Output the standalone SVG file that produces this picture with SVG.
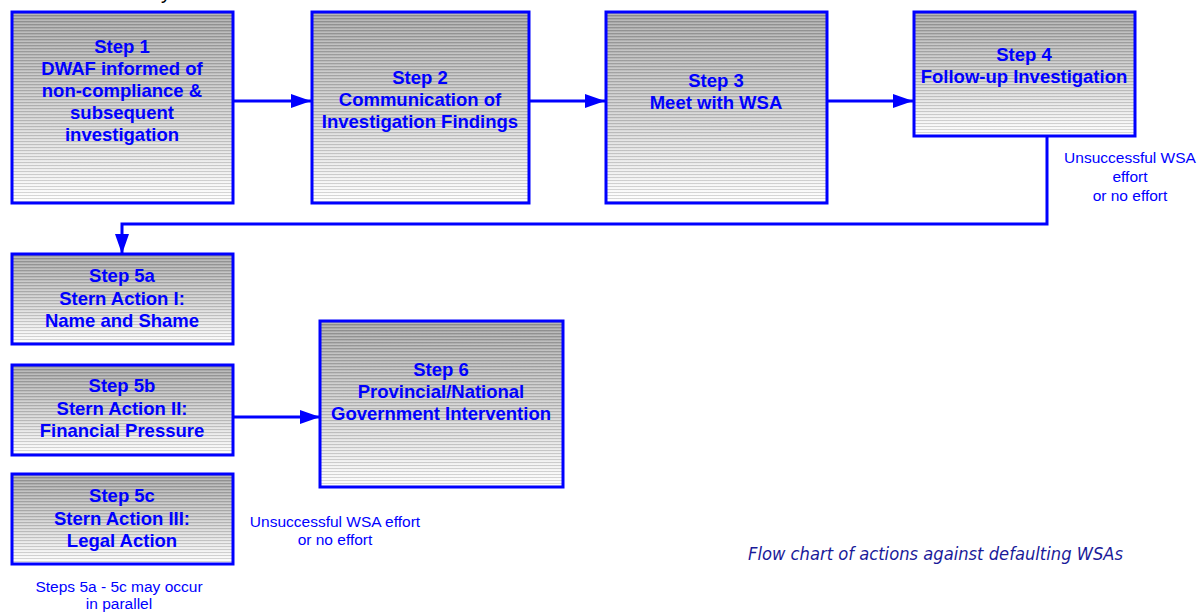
<svg xmlns="http://www.w3.org/2000/svg" width="1198" height="612" viewBox="0 0 1198 612">
  <defs>
    <linearGradient id="shade" x1="0" y1="0" x2="0" y2="1">
      <stop offset="0" stop-color="#a4a4a4"/>
      <stop offset="0.55" stop-color="#d2d2d2"/>
      <stop offset="1" stop-color="#ffffff"/>
    </linearGradient>
    <pattern id="stripes" width="6" height="3" patternUnits="userSpaceOnUse">
      <rect x="0" y="0" width="6" height="1" fill="#000" fill-opacity="0.15"/>
      <rect x="0" y="2" width="6" height="1" fill="#fff" fill-opacity="0.2"/>
    </pattern>
    <marker id="arrow" markerWidth="20" markerHeight="14" refX="20" refY="7" orient="auto" markerUnits="userSpaceOnUse">
      <path d="M0,0 L20,7 L0,14 Z" fill="#0000ff"/>
    </marker>
  </defs>
  <style>
    .box-bg { fill: url(#shade); }
    .box-st { fill: url(#stripes); stroke: #0000ff; stroke-width: 3; }
    .step { font-family: "Liberation Sans", Arial, sans-serif; font-weight: bold; font-size: 18.5px; fill: #0000ff; text-anchor: middle; }
    .note { font-family: "Liberation Sans", Arial, sans-serif; font-size: 15.5px; fill: #0000ff; text-anchor: middle; }
    .conn { fill: none; stroke: #0000ff; stroke-width: 3; }
    .caption { font-family: "DejaVu Sans", sans-serif; font-style: italic; font-size: 17px; fill: #1a1a99; }
  </style>

  <rect width="1198" height="612" fill="#ffffff"/>

  <!-- heading fragment running off the top edge -->
  <text x="161" y="-1" font-family="Liberation Sans, Arial, sans-serif" font-size="20" fill="#000">y</text>

  <!-- connectors -->
  <g id="connectors">
    <line class="conn" x1="233" y1="101" x2="311" y2="101" marker-end="url(#arrow)"/>
    <line class="conn" x1="529" y1="101" x2="605" y2="101" marker-end="url(#arrow)"/>
    <line class="conn" x1="827" y1="101" x2="913" y2="101" marker-end="url(#arrow)"/>
    <polyline class="conn" points="1047,136 1047,224 122,224 122,254" marker-end="url(#arrow)"/>
    <line class="conn" x1="233" y1="417" x2="320" y2="417" marker-end="url(#arrow)"/>
  </g>

  <g id="step1">
    <rect class="box-bg" x="12" y="12" width="221" height="191"/>
    <rect class="box-st" x="12" y="12" width="221" height="191"/>
    <text class="step" x="122" y="53">Step 1</text>
    <text class="step" x="122" y="75">DWAF informed of</text>
    <text class="step" x="122" y="97">non-compliance &amp;</text>
    <text class="step" x="122" y="119">subsequent</text>
    <text class="step" x="122" y="141">investigation</text>
  </g>

  <g id="step2">
    <rect class="box-bg" x="312" y="12" width="217" height="191"/>
    <rect class="box-st" x="312" y="12" width="217" height="191"/>
    <text class="step" x="420" y="84">Step 2</text>
    <text class="step" x="420" y="106">Communication of</text>
    <text class="step" x="420" y="128">Investigation Findings</text>
  </g>

  <g id="step3">
    <rect class="box-bg" x="606" y="12" width="221" height="191"/>
    <rect class="box-st" x="606" y="12" width="221" height="191"/>
    <text class="step" x="716" y="87">Step 3</text>
    <text class="step" x="716" y="109">Meet with WSA</text>
  </g>

  <g id="step4">
    <rect class="box-bg" x="914" y="12" width="221" height="124"/>
    <rect class="box-st" x="914" y="12" width="221" height="124"/>
    <text class="step" x="1024" y="61">Step 4</text>
    <text class="step" x="1024" y="83">Follow-up Investigation</text>
  </g>

  <g id="label-step4">
    <text class="note" x="1130" y="163">Unsuccessful WSA</text>
    <text class="note" x="1130" y="182">effort</text>
    <text class="note" x="1130" y="201">or no effort</text>
  </g>

  <g id="step5a">
    <rect class="box-bg" x="12" y="254" width="221" height="90"/>
    <rect class="box-st" x="12" y="254" width="221" height="90"/>
    <text class="step" x="122" y="282">Step 5a</text>
    <text class="step" x="122" y="305">Stern Action I:</text>
    <text class="step" x="122" y="327">Name and Shame</text>
  </g>

  <g id="step5b">
    <rect class="box-bg" x="12" y="365" width="221" height="90"/>
    <rect class="box-st" x="12" y="365" width="221" height="90"/>
    <text class="step" x="122" y="392">Step 5b</text>
    <text class="step" x="122" y="415">Stern Action II:</text>
    <text class="step" x="122" y="437">Financial Pressure</text>
  </g>

  <g id="step5c">
    <rect class="box-bg" x="12" y="474" width="221" height="90"/>
    <rect class="box-st" x="12" y="474" width="221" height="90"/>
    <text class="step" x="122" y="502">Step 5c</text>
    <text class="step" x="122" y="525">Stern Action III:</text>
    <text class="step" x="122" y="547">Legal Action</text>
  </g>

  <g id="label-step5">
    <text class="note" x="119" y="592">Steps 5a - 5c may occur</text>
    <text class="note" x="119" y="609">in parallel</text>
  </g>

  <g id="step6">
    <rect class="box-bg" x="320" y="321" width="243" height="166"/>
    <rect class="box-st" x="320" y="321" width="243" height="166"/>
    <text class="step" x="441" y="376">Step 6</text>
    <text class="step" x="441" y="398">Provincial/National</text>
    <text class="step" x="441" y="420">Government Intervention</text>
  </g>

  <g id="label-step6">
    <text class="note" x="335" y="527">Unsuccessful WSA effort</text>
    <text class="note" x="335" y="545">or no effort</text>
  </g>

  <text class="caption" x="748" y="560" textLength="375" lengthAdjust="spacingAndGlyphs">Flow chart of actions against defaulting WSAs</text>
</svg>
